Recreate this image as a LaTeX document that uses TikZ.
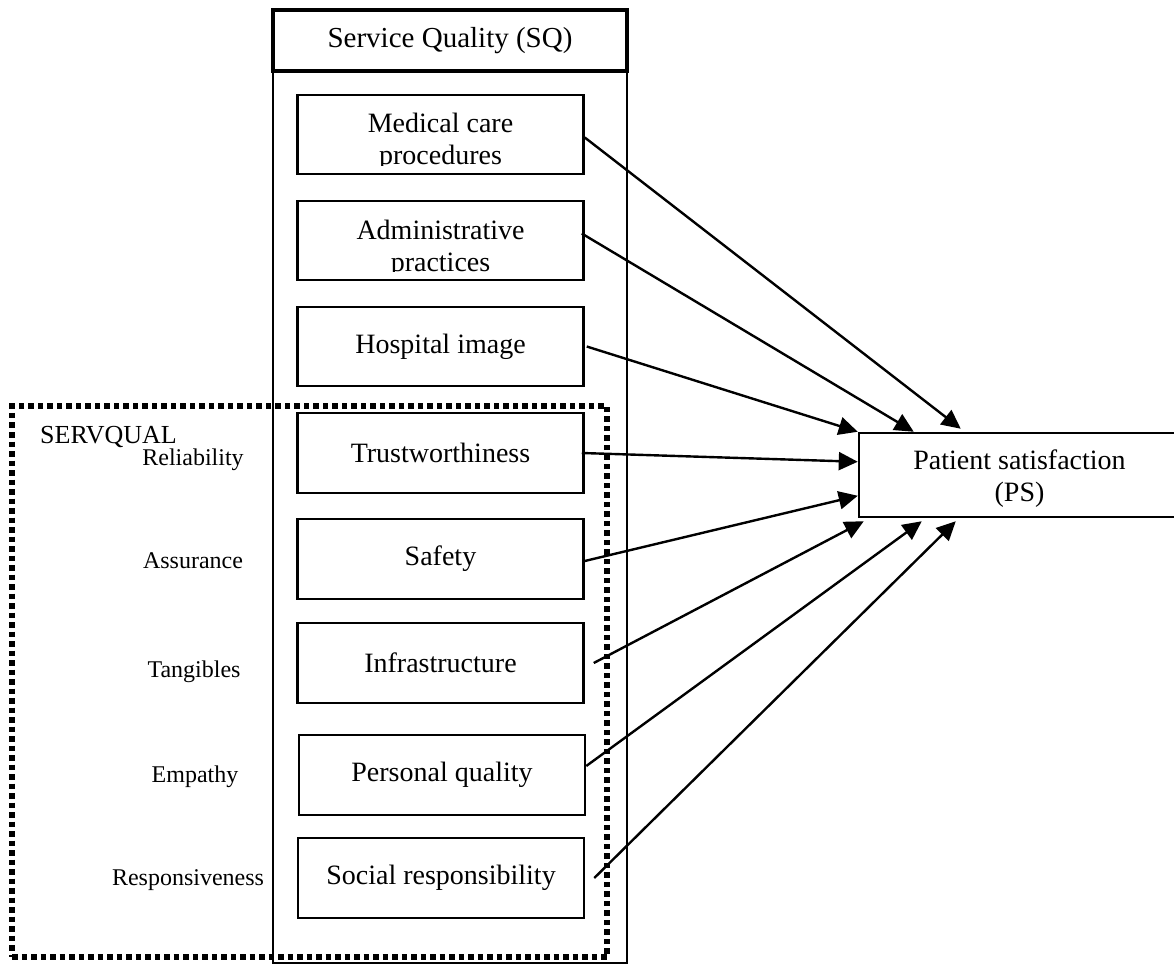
\documentclass[tikz,border=0pt]{standalone}
\usepackage{fontspec}
\setmainfont{Liberation Serif}
\usetikzlibrary{arrows.meta}

\begin{document}
\begin{tikzpicture}[x=1pt,y=-1pt,>={Triangle[length=19pt,width=18pt]},
  sqbox/.style={draw,line width=2.5pt,minimum width=286pt,minimum height=79pt,inner sep=0pt,
    font=\fontsize{28}{32}\selectfont,align=center},
  boxtext/.style={inner sep=0pt,font=\fontsize{28}{32}\selectfont,align=center,anchor=north},
  dimlabel/.style={inner sep=0pt,font=\fontsize{24}{28}\selectfont},
  link/.style={->,line width=2.4pt}]
  \useasboundingbox (0,0) rectangle (1174,965);
  % service quality column
  \node[draw,line width=2.5pt,minimum width=354pt,minimum height=953pt,inner sep=0pt] (sqcol) at (450,486.5) {};
  \node[draw,line width=3.5pt,minimum width=354pt,minimum height=61pt,inner sep=0pt,
    font=\fontsize{29}{33}\selectfont] (sqhead) at (450,40.5) {Service Quality (SQ)};
  % dimensions
  \node[sqbox] (medical) at (440.5,134.5) {};
  \node[sqbox] (admin) at (440.5,240.5) {};
  \node[sqbox] (hospital) at (440.5,346.5) {Hospital image};
  \node[sqbox,minimum height=80pt] (trust) at (440.5,453) {Trustworthiness};
  \node[sqbox,minimum height=80pt] (safety) at (440.5,559) {Safety};
  \node[sqbox,minimum height=80pt] (infra) at (440.5,663) {Infrastructure};
  \node[sqbox,minimum height=80pt] (personal) at (442,775) {Personal quality};
  \node[sqbox,minimum height=80pt] (social) at (441,878) {Social responsibility};
  \begin{scope}
    \clip (medical.north west) rectangle ([yshift=10pt]medical.south east);
    \node[boxtext] (medicaltext) at (440.5,113) {Medical care\\procedures};
  \end{scope}
  \begin{scope}
    \clip (admin.north west) rectangle ([yshift=10pt]admin.south east);
    \node[boxtext] (admintext) at (440.5,220) {Administrative\\practices};
  \end{scope}
  % SERVQUAL frame
  \node[draw,line width=5.5pt,dash pattern=on 5.5pt off 4pt,minimum width=595pt,minimum height=551pt,
    inner sep=0pt] (servqual) at (309.5,681.5) {};
  \node[anchor=base west,inner sep=0pt,font=\fontsize{26}{30}\selectfont] (servqualtext) at (40,443) {SERVQUAL};
  \node[dimlabel] (reliab) at (193,460) {Reliability};
  \node[dimlabel] (assur) at (193,561) {Assurance};
  \node[dimlabel] (tangib) at (194,672) {Tangibles};
  \node[dimlabel] (empath) at (195,777) {Empathy};
  \node[dimlabel] (respons) at (188,880) {Responsiveness};
  % patient satisfaction
  \node[draw,line width=2.5pt,minimum width=321pt,minimum height=84pt,inner sep=0pt,
    font=\fontsize{28}{32}\selectfont,align=center] (ps) at (1019.5,475)
    {\rule{0pt}{27pt}Patient satisfaction\\(PS)};
  % paths
  \draw[link] ([yshift=-3pt]medical.east) -- ([xshift=103pt,yshift=3pt]ps.north west);
  \draw[link] ([xshift=-3pt,yshift=7pt]admin.east) -- ([xshift=56pt]ps.north west);
  \draw[link] ([xshift=2pt]hospital.east) -- (ps.north west);
  \draw[link] ([xshift=-3pt]trust.east) -- ([yshift=-30pt]ps.north west);
  \draw[link] ([yshift=-2pt]safety.east) -- ([yshift=-64pt]ps.north west);
  \draw[link] ([xshift=9pt]infra.east) -- ([xshift=6pt,yshift=-3pt]ps.south west);
  \draw[link] ([yshift=9pt]personal.east) -- ([xshift=64pt,yshift=-3pt]ps.south west);
  \draw[link] ([xshift=9pt]social.east) -- ([xshift=98pt,yshift=-3pt]ps.south west);
\end{tikzpicture}
\end{document}
